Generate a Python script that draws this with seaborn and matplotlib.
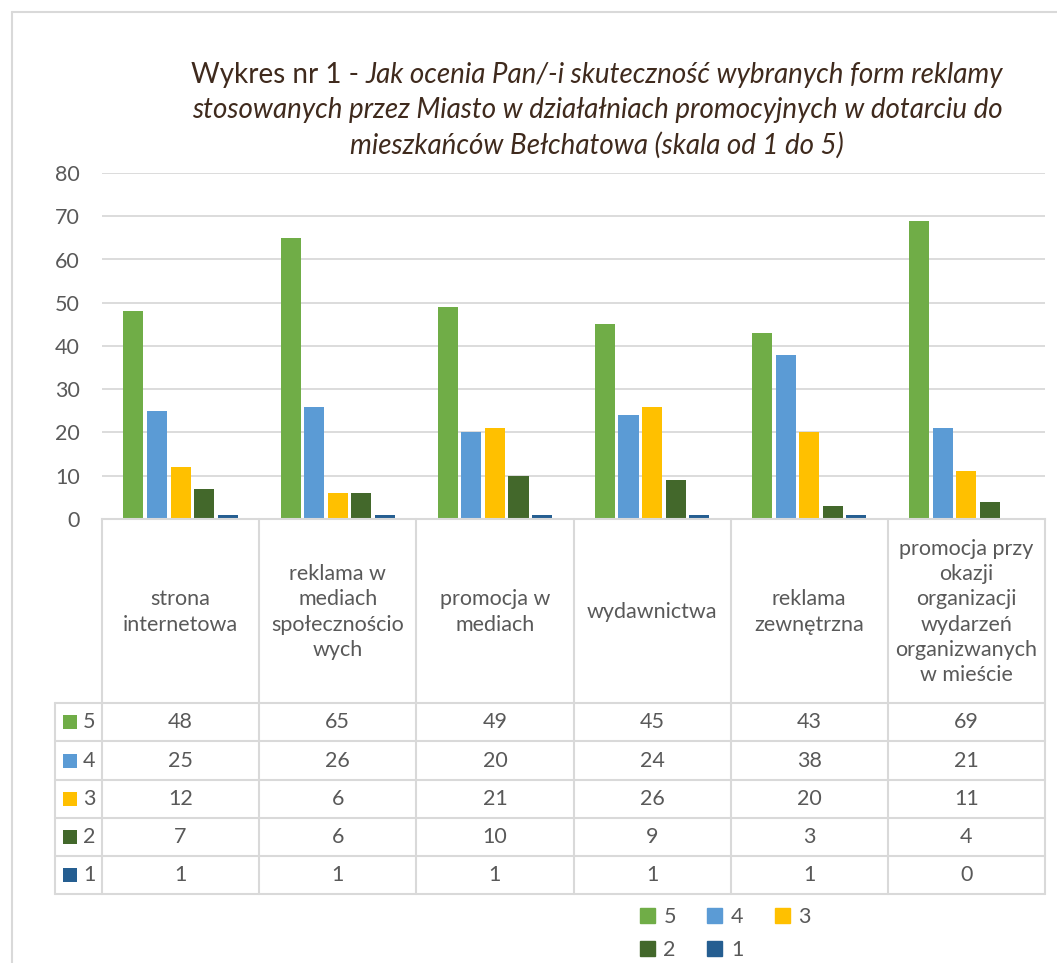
import numpy as np
import pandas as pd
import seaborn as sns
import matplotlib.pyplot as plt
from matplotlib.patches import Patch, Rectangle
from matplotlib.lines import Line2D

categories = ["strona\ninternetowa", "reklama w\nmediach\nspołecznościo\nwych",
              "promocja w\nmediach", "wydawnictwa", "reklama\nzewnętrzna",
              "promocja przy\nokazji\norganizacji\nwydarzeń\norganizwanych\nw mieście"]
scores = ["5", "4", "3", "2", "1"]
score_5 = [48, 65, 49, 45, 43, 69]
score_4 = [25, 26, 20, 24, 38, 21]
score_3 = [12, 6, 21, 26, 20, 11]
score_2 = [7, 6, 10, 9, 3, 4]
score_1 = [1, 1, 1, 1, 1, 0]
colors = ["#70AD47", "#5B9BD5", "#FFC000", "#43682B", "#255E91"]

values = {"5": score_5, "4": score_4, "3": score_3, "2": score_2, "1": score_1}
df = pd.DataFrame([(c, s, values[s][i]) for s in scores for i, c in enumerate(categories)],
                  columns=["category", "score", "value"])

sns.set_style("white")
plt.rcParams["font.family"] = ["Lato", "DejaVu Sans"]
txt_c = "#595959"
grid_c = "#D9D9D9"
fs = 15.5

fig = plt.figure(figsize=(10.57, 9.63), dpi=100)
ov = fig.add_axes([0, 0, 1, 1])
ov.set_xlim(0, 1057)
ov.set_ylim(963, 0)
ov.axis("off")

ax = fig.add_axes([102 / 1057, 1 - 519 / 963, 943 / 1057, 346 / 963])
sns.barplot(data=df, x="category", y="value", hue="score", hue_order=scores,
            order=categories, palette=colors, width=0.75, gap=0.15, saturation=1,
            errorbar=None, linewidth=0, legend=False, ax=ax)
ax.set_xlim(-0.5, 5.5)
ax.set_ylim(0, 80)
ax.set_yticks(np.arange(0, 81, 10))
ax.set_xticks([])
ax.set_xlabel("")
ax.set_ylabel("")
ax.yaxis.grid(True, color=grid_c, lw=1.3)
ax.set_axisbelow(True)
ax.tick_params(axis="y", length=0, pad=16, labelsize=fs, labelcolor=txt_c)
for side in ["top", "right", "left"]:
    ax.spines[side].set_visible(False)
ax.spines["bottom"].set_color(grid_c)
ax.spines["bottom"].set_linewidth(1.5)
ax.patch.set_alpha(0)

# outer chart border (cropped)
ov.add_line(Line2D([12, 12], [12, 970], color=grid_c, lw=1.5))
ov.add_line(Line2D([12, 1060], [12, 12], color=grid_c, lw=1.5))

# title
fig.canvas.draw()
r = fig.canvas.get_renderer()
title_c = "#3F2A1D"
tfs = 20
cx = 597
t1 = ov.text(0, 75, "Wykres nr 1 - ", fontsize=tfs, color=title_c, va="center")
t2 = ov.text(0, 75, "Jak ocenia Pan/-i skuteczność wybranych form reklamy",
             fontsize=tfs, style="italic", color=title_c, va="center")
w1 = t1.get_window_extent(r).width
w2 = t2.get_window_extent(r).width
t1.set_x(cx - (w1 + w2) / 2)
t2.set_x(cx - (w1 + w2) / 2 + w1)
ov.text(cx, 110, "stosowanych przez Miasto w działałniach promocyjnych w dotarciu do",
        fontsize=tfs, style="italic", color=title_c, ha="center", va="center")
ov.text(cx, 145, "mieszkańców Bełchatowa (skala od 1 do 5)",
        fontsize=tfs, style="italic", color=title_c, ha="center", va="center")

# data table
xs = [ax.transData.transform((i - 0.5, 0))[0] for i in range(len(categories) + 1)]
head_top, head_bot = 519, 703
row_edges = [703, 741.5, 780, 818, 856, 894.5]
left_x = 55
for x in xs:
    ov.add_line(Line2D([x, x], [head_top, row_edges[-1]], color=grid_c, lw=1.5))
ov.add_line(Line2D([left_x, left_x], [row_edges[0], row_edges[-1]], color=grid_c, lw=1.5))
for y in row_edges:
    ov.add_line(Line2D([left_x, xs[-1]], [y, y], color=grid_c, lw=1.5))

for i, c in enumerate(categories):
    xc = (xs[i] + xs[i + 1]) / 2
    ov.text(xc, (head_top + head_bot) / 2 + 1, c, ha="center", va="center",
            fontsize=fs, color=txt_c, linespacing=1.32, multialignment="center")

for j, s in enumerate(scores):
    yc = (row_edges[j] + row_edges[j + 1]) / 2
    ov.add_patch(Rectangle((63, yc - 7), 14, 14, color=colors[j], lw=0))
    ov.text(83, yc, s, ha="left", va="center", fontsize=fs, color=txt_c)
    for i in range(len(categories)):
        xc = (xs[i] + xs[i + 1]) / 2
        ov.text(xc, yc, str(values[s][i]), ha="center", va="center",
                fontsize=fs, color=txt_c)

# legend below, row-wise order 5 4 3 / 2 1
handles = [Patch(color=colors[k], label=scores[k]) for k in range(5)]
order = [0, 3, 1, 4, 2]
leg = fig.legend([handles[k] for k in order], [scores[k] for k in order],
                 ncol=3, loc="upper left", bbox_to_anchor=(629 / 1057, 1 - 896 / 963),
                 frameon=False, fontsize=fs, handlelength=0.7, handleheight=0.7,
                 handletextpad=0.4, columnspacing=1.45, labelspacing=0.6, borderpad=0)
for t in leg.get_texts():
    t.set_color(txt_c)

fig.savefig("out.png", dpi=100)
